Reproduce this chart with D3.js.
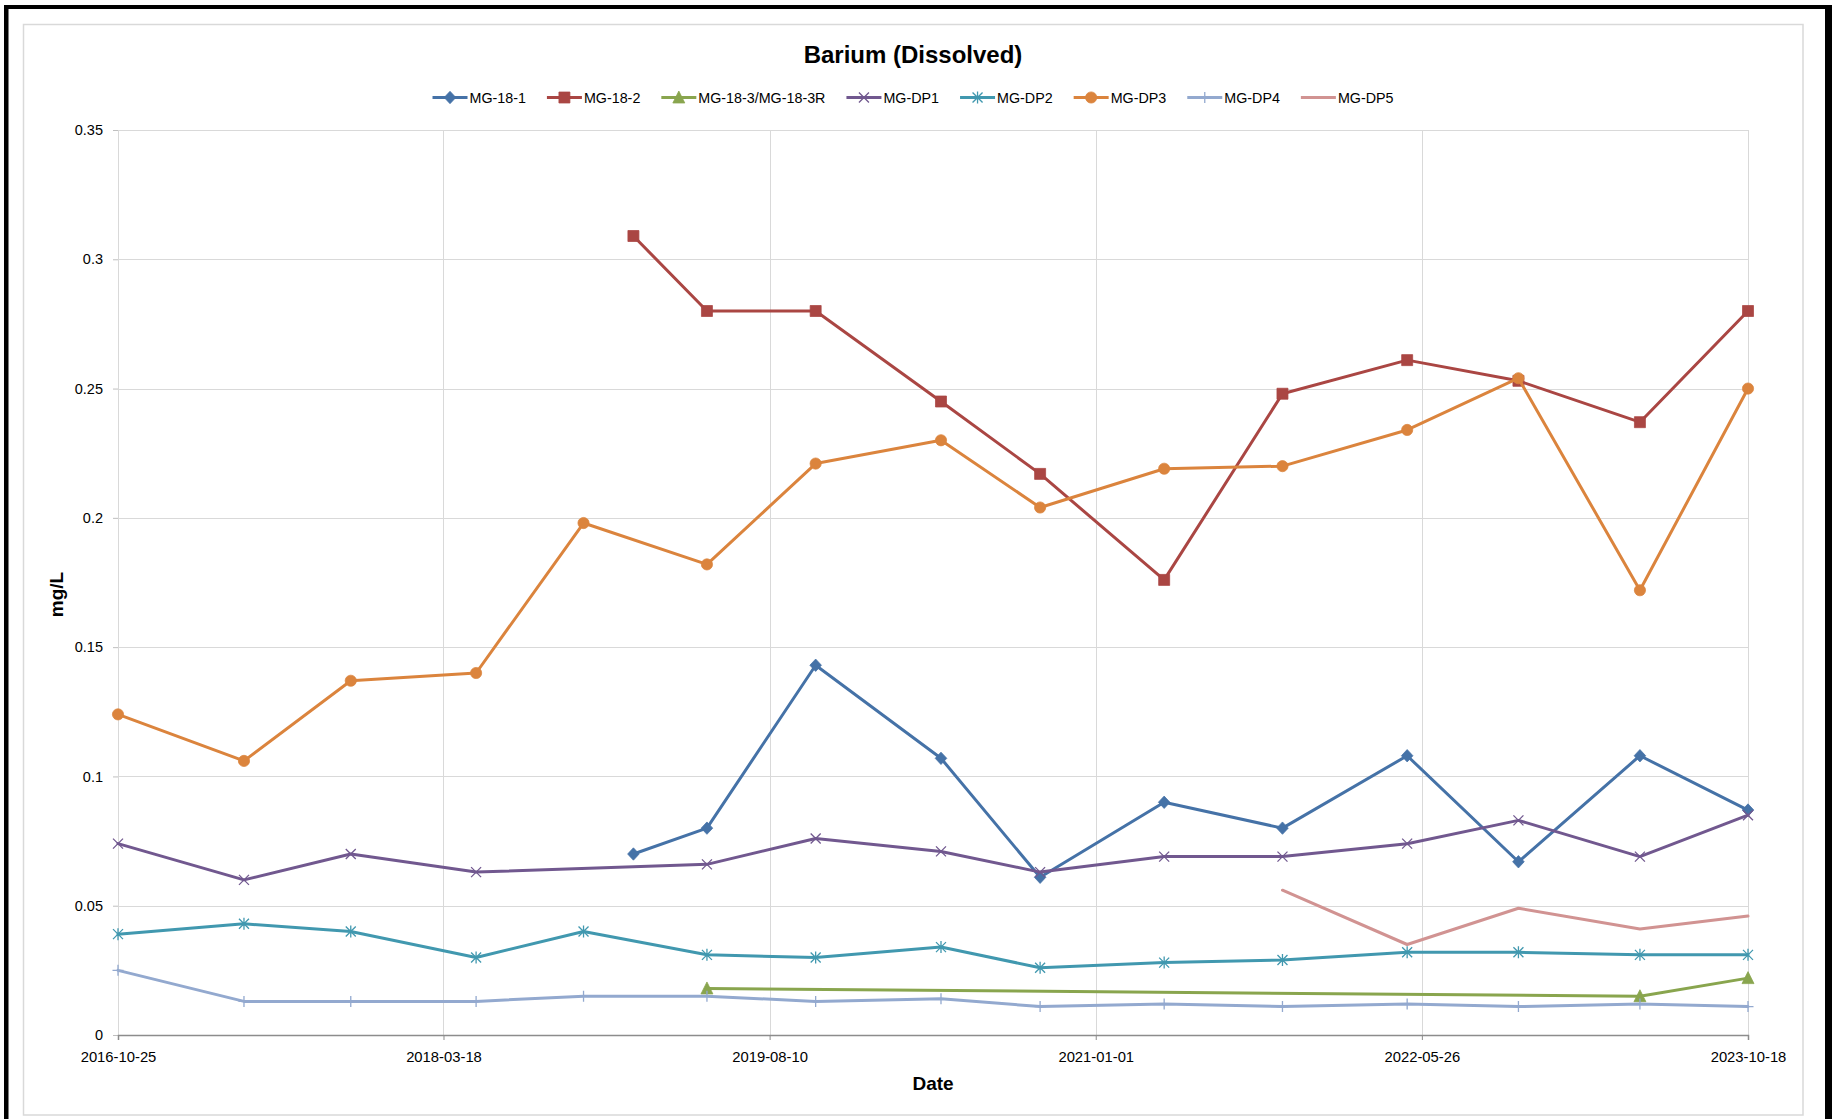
<!DOCTYPE html>
<html>
<head>
<meta charset="utf-8">
<script src="https://cdn.jsdelivr.net/npm/d3@7"></script>
<style>
  html, body { margin: 0; padding: 0; background: #fff; }
  svg { display: block; }
  text { font-family: "Liberation Sans", Arial, sans-serif; }
</style>
</head>
<body>
<svg id="chart" width="1832" height="1119"></svg>
<script>
// Sampling dates (shared by all wells)
const dates = ["2016-10-25", "2017-05-10", "2017-10-24", "2018-05-08", "2018-10-23",
               "2019-01-09", "2019-05-04", "2019-10-21", "2020-05-04", "2020-10-06",
               "2021-04-18", "2021-10-20", "2022-05-03", "2022-10-24", "2023-05-02", "2023-10-18"];

// Dissolved barium, mg/L (null = not sampled)
const mg18_1  = [null, null, null, null, null, 0.070, 0.080, 0.143, 0.107, 0.061, 0.090, 0.080, 0.108, 0.067, 0.108, 0.087];
const mg18_2  = [null, null, null, null, null, 0.309, 0.280, 0.280, 0.245, 0.217, 0.176, 0.248, 0.261, 0.253, 0.237, 0.280];
const mg18_3  = [null, null, null, null, null, null, 0.018, null, null, null, null, null, null, null, 0.015, 0.022];
const mgDP1   = [0.074, 0.060, 0.070, 0.063, null, null, 0.066, 0.076, 0.071, 0.063, 0.069, 0.069, 0.074, 0.083, 0.069, 0.085];
const mgDP2   = [0.039, 0.043, 0.040, 0.030, 0.040, null, 0.031, 0.030, 0.034, 0.026, 0.028, 0.029, 0.032, 0.032, 0.031, 0.031];
const mgDP3   = [0.124, 0.106, 0.137, 0.140, 0.198, null, 0.182, 0.221, 0.230, 0.204, 0.219, 0.220, 0.234, 0.254, 0.172, 0.250];
const mgDP4   = [0.025, 0.013, 0.013, 0.013, 0.015, null, 0.015, 0.013, 0.014, 0.011, 0.012, 0.011, 0.012, 0.011, 0.012, 0.011];
const mgDP5   = [null, null, null, null, null, null, null, null, null, null, null, 0.056, 0.035, 0.049, 0.041, 0.046];

const seriesNames = ["MG-18-1", "MG-18-2", "MG-18-3/MG-18-3R", "MG-DP1", "MG-DP2", "MG-DP3", "MG-DP4", "MG-DP5"];

// Axis ticks
const xTickLabels = ["2016-10-25", "2018-03-18", "2019-08-10", "2021-01-01", "2022-05-26", "2023-10-18"];
const yTicks = [0, 0.05, 0.1, 0.15, 0.2, 0.25, 0.3, 0.35];

// ---- styling ----
const styles = [
  { color: "#4572A7", marker: "diamond" },
  { color: "#AA4643", marker: "square" },
  { color: "#89A54E", marker: "triangle" },
  { color: "#71588F", marker: "x" },
  { color: "#4198AF", marker: "star" },
  { color: "#DB843D", marker: "circle" },
  { color: "#93A9CF", marker: "plus" },
  { color: "#D19392", marker: "none" }
];
const values = [mg18_1, mg18_2, mg18_3, mgDP1, mgDP2, mgDP3, mgDP4, mgDP5];

const W = 1832, H = 1119;
const plot = { left: 118, right: 1748, top: 130, bottom: 1035 };
const parse = d3.timeParse("%Y-%m-%d");

const svg = d3.select("#chart");

// outer frame
svg.append("rect").attr("x", 0).attr("y", 0).attr("width", W).attr("height", H).attr("fill", "#fff");
svg.append("rect").attr("x", 4).attr("y", 5).attr("width", 4.5).attr("height", H - 5).attr("fill", "#000");
svg.append("rect").attr("x", 4).attr("y", 5).attr("width", W - 4).attr("height", 4).attr("fill", "#000");
svg.append("rect").attr("x", 1825).attr("y", 5).attr("width", 7).attr("height", H - 5).attr("fill", "#000");
// chart area border
svg.append("rect").attr("x", 23.5).attr("y", 24.5).attr("width", 1803 - 23.5).attr("height", 1115 - 24.5)
  .attr("fill", "none").attr("stroke", "#d9d9d9").attr("stroke-width", 1.5);

const x = d3.scaleTime()
  .domain([parse(xTickLabels[0]), parse(xTickLabels[xTickLabels.length - 1])])
  .range([plot.left, plot.right]);
const y = d3.scaleLinear().domain([0, 0.35]).range([plot.bottom, plot.top]);

// gridlines
const grid = svg.append("g").attr("stroke", "#d9d9d9").attr("stroke-width", 1);
grid.selectAll("line.h").data(yTicks).join("line")
  .attr("x1", plot.left).attr("x2", plot.right)
  .attr("y1", d => Math.round(y(d)) + 0.5).attr("y2", d => Math.round(y(d)) + 0.5);
grid.selectAll("line.v").data(xTickLabels.map(parse)).join("line")
  .attr("x1", d => Math.round(x(d)) + 0.5).attr("x2", d => Math.round(x(d)) + 0.5)
  .attr("y1", plot.top).attr("y2", plot.bottom);

// y axis
const yAxis = svg.append("g").attr("transform", `translate(${plot.left},0)`)
  .call(d3.axisLeft(y).tickValues(yTicks).tickSize(5).tickPadding(10)
    .tickFormat(d => String(+d.toFixed(2))));
yAxis.select(".domain").attr("stroke", "#d9d9d9");
yAxis.selectAll(".tick line").attr("stroke", "#bfbfbf");
yAxis.selectAll("text").attr("font-size", 14.5).attr("fill", "#000")
  .attr("font-family", "Liberation Sans, Arial, sans-serif");

// x axis
const xAxis = svg.append("g").attr("transform", `translate(0,${plot.bottom})`)
  .call(d3.axisBottom(x).tickValues(xTickLabels.map(parse)).tickSize(5).tickPadding(11)
    .tickFormat(d3.timeFormat("%Y-%m-%d")));
xAxis.select(".domain").attr("stroke", "#8c8c8c").attr("stroke-width", 1.5);
xAxis.selectAll(".tick line").attr("stroke", "#8c8c8c");
xAxis.selectAll("text").attr("font-size", 14.8).attr("fill", "#000")
  .attr("font-family", "Liberation Sans, Arial, sans-serif");

// titles
svg.append("text").attr("x", 913).attr("y", 63).attr("text-anchor", "middle")
  .attr("font-size", 24).attr("font-weight", "bold").attr("fill", "#000").text("Barium (Dissolved)");
svg.append("text").attr("x", (plot.left + plot.right) / 2).attr("y", 1090).attr("text-anchor", "middle")
  .attr("font-size", 19).attr("font-weight", "bold").attr("fill", "#000").text("Date");
svg.append("text").attr("transform", `translate(63,${(plot.top + plot.bottom) / 2 + 12}) rotate(-90)`)
  .attr("text-anchor", "middle")
  .attr("font-size", 19).attr("font-weight", "bold").attr("fill", "#000").text("mg/L");

// marker shapes
function markerPath(type) {
  switch (type) {
    case "diamond": return "M0,-6.2L5.8,0L0,6.2L-5.8,0Z";
    case "square": return "M-5.5,-5.5H5.5V5.5H-5.5Z";
    case "triangle": return "M0,-6.5L6,5.5L-6,5.5Z";
    case "circle": return d3.symbol(d3.symbolCircle, Math.PI * 5.6 * 5.6)();
    case "x": return "M-5,-5L5,5M-5,5L5,-5";
    case "star": return "M-5,-5L5,5M-5,5L5,-5M0,-6L0,6";
    case "plus": return "M0,-5.5L0,5.5M-5.5,0L5.5,0";
    default: return null;
  }
}
const filled = t => ["diamond", "square", "triangle", "circle"].includes(t);

function drawMarker(g, type, color) {
  const p = markerPath(type);
  if (!p) return;
  if (filled(type)) g.append("path").attr("d", p).attr("fill", color).attr("stroke", color).attr("stroke-width", 0.75);
  else g.append("path").attr("d", p).attr("fill", "none").attr("stroke", color).attr("stroke-width", 1.3);
}

const line = d3.line().x(d => x(d.date)).y(d => y(d.value));

const seriesLayer = svg.append("g");
seriesNames.forEach((name, i) => {
  const pts = dates.map((d, k) => ({ date: parse(d), value: values[i][k] }))
    .filter(p => p.value !== null);
  const st = styles[i];
  const g = seriesLayer.append("g").attr("class", "series");
  g.append("path").datum(pts).attr("d", line)
    .attr("fill", "none").attr("stroke", st.color).attr("stroke-width", 3)
    .attr("stroke-linejoin", "round").attr("stroke-linecap", "round");
  pts.forEach(p => {
    const m = g.append("g").attr("transform", `translate(${x(p.date)},${y(p.value)})`);
    drawMarker(m, st.marker, st.color);
  });
});

// legend
const legend = svg.append("g");
const items = seriesNames.map((name, i) => {
  const g = legend.append("g");
  g.append("line").attr("x1", 0).attr("x2", 35).attr("y1", 0).attr("y2", 0)
    .attr("stroke", styles[i].color).attr("stroke-width", 3);
  const m = g.append("g").attr("transform", "translate(17.5,0)");
  drawMarker(m, styles[i].marker, styles[i].color);
  const t = g.append("text").attr("x", 37).attr("y", 5).attr("font-size", 14.3).attr("fill", "#000").text(name);
  return { g, w: 37 + t.node().getComputedTextLength() };
});
const gap = 21;
const totalW = d3.sum(items, d => d.w) + gap * (items.length - 1);
let cx = 913 - totalW / 2;
items.forEach(it => {
  it.g.attr("transform", `translate(${cx},97.5)`);
  cx += it.w + gap;
});
</script>
</body>
</html>
